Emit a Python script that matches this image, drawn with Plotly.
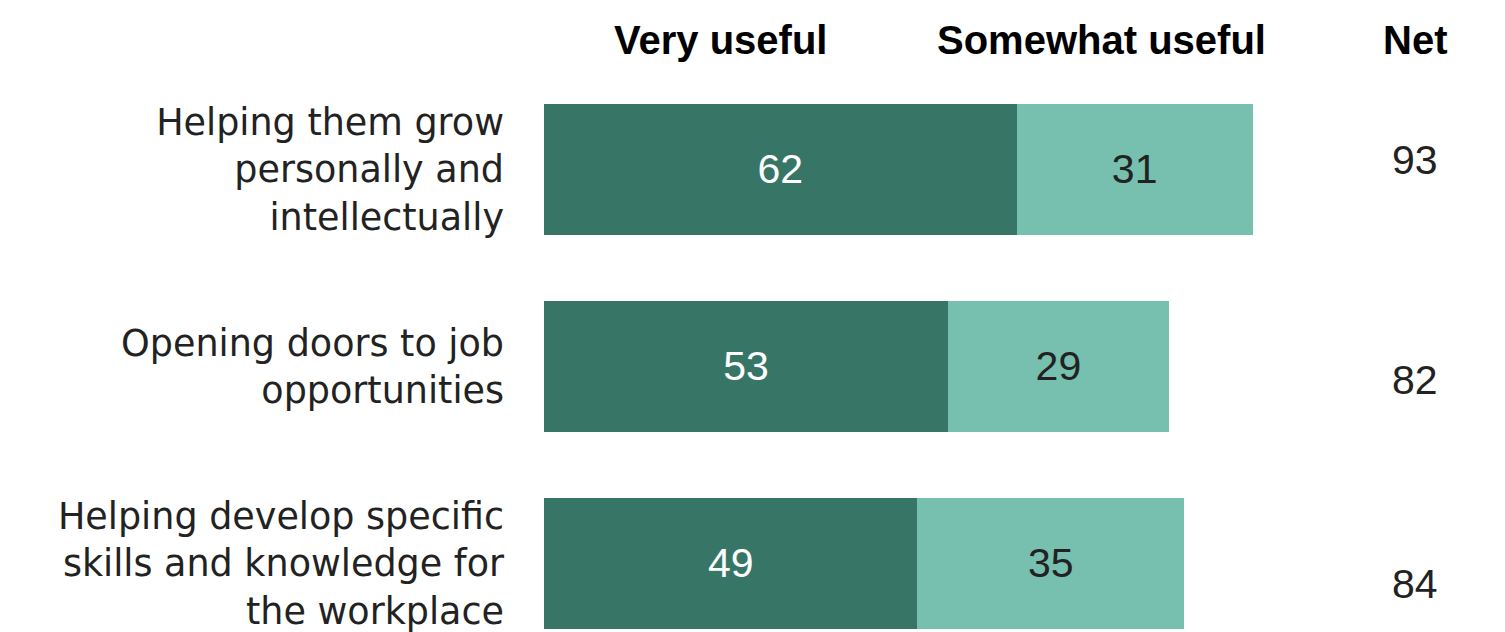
import plotly.graph_objects as go

categories = [
    "Helping them grow<br>personally and<br>intellectually",
    "Opening doors to job<br>opportunities",
    "Helping develop specific<br>skills and knowledge for<br>the workplace",
]
very_useful = [62, 53, 49]
somewhat_useful = [31, 29, 35]
net = [93, 82, 84]
headers = ["Very useful", "Somewhat useful", "Net"]

# style
DARK = "#377667"
LIGHT = "#77bfae"
FONT = "Liberation Sans"
LABEL_FONT = "DejaVu Sans"
header_x = [23.1, 73.2, 114.3]
net_x = 114.3
net_yshift = [9, -14, -21]

fig = go.Figure()
fig.add_trace(go.Bar(
    y=categories, x=very_useful, orientation="h", marker=dict(color=DARK, line=dict(width=0)),
    text=very_useful, textposition="inside", insidetextanchor="middle",
    textfont=dict(color="white", size=41, family=FONT), width=0.662, name="Very useful",
))
fig.add_trace(go.Bar(
    y=categories, x=somewhat_useful, orientation="h", marker=dict(color=LIGHT, line=dict(width=0)),
    text=somewhat_useful, textposition="inside", insidetextanchor="middle",
    textfont=dict(color="#222222", size=41, family=FONT), width=0.662, name="Somewhat useful",
))

for cat, v, ys in zip(categories, net, net_yshift):
    fig.add_annotation(x=net_x, y=cat, text=str(v), showarrow=False, yshift=ys,
                       font=dict(size=41, color="#222222", family=FONT), xanchor="center")

for hx, h in zip(header_x, headers):
    fig.add_annotation(x=hx, xref="x", y=1, yref="paper", yshift=31, text=f"<b>{h}</b>",
                       showarrow=False, yanchor="middle", xanchor="center",
                       font=dict(size=40, color="#000000", family=FONT))

fig.update_layout(
    width=1505, height=632, barmode="stack", showlegend=False,
    margin=dict(l=544, r=0, t=71, b=0),
    plot_bgcolor="white", paper_bgcolor="white",
    font=dict(family=FONT, color="#222222"),
)
fig.update_xaxes(range=[0, 126.1], showgrid=False, zeroline=False, showticklabels=False,
                 showline=False, fixedrange=True)
fig.update_yaxes(type="category", categoryorder="array", categoryarray=categories,
                 range=[2.333, -0.5], showgrid=False, zeroline=False, showline=False,
                 ticks="", ticklabelstandoff=39,
                 tickfont=dict(size=36.5, color="#222222", family=LABEL_FONT))

fig.write_html("out.html")
